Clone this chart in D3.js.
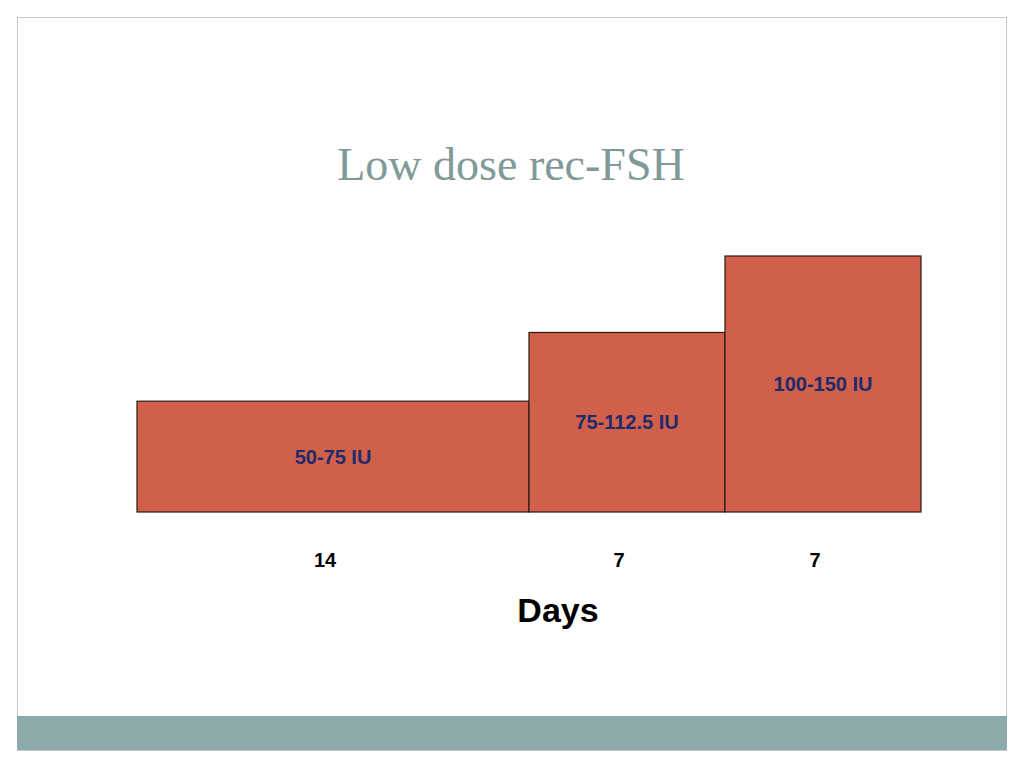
<!DOCTYPE html>
<html>
<head>
<meta charset="utf-8">
<script src="https://cdn.jsdelivr.net/npm/d3@7"></script>
<style>
  body { margin: 0; background: #fff; }
</style>
</head>
<body>
<svg id="chart" width="1024" height="768"></svg>
<script>
// dose steps, duration in days and relative dose level
let doses = ['50-75 IU', '75-112.5 IU', '100-150 IU'];
let days = [14, 7, 7];
let levels = [1, 1.62, 2.31];

let svg = d3.select('#chart');

// slide frame
svg.append('rect')
    .attr('x', 17.5).attr('y', 17.5)
    .attr('width', 989).attr('height', 733)
    .attr('fill', '#fff')
    .attr('stroke', '#c8c8c8');

svg.append('rect')
    .attr('x', 17).attr('y', 716)
    .attr('width', 990).attr('height', 34)
    .attr('fill', '#8eabab');

svg.append('text')
    .attr('x', 511).attr('y', 180)
    .attr('text-anchor', 'middle')
    .attr('font-family', 'Liberation Serif, serif')
    .attr('font-size', 46)
    .attr('fill', '#7f9a98')
    .text('Low dose rec-FSH');

let starts = [];
let acc = 0;
for (let d of days) {
    starts.push(acc);
    acc += d;
}

let x = d3.scaleLinear().domain([0, acc]).range([137, 921]);
let y = d3.scaleLinear().domain([0, 2.31]).range([512, 256]);

let bars = svg.append('g');

for (let i = 0; i < doses.length; i++) {
    let x0 = x(starts[i]);
    let x1 = x(starts[i] + days[i]);

    bars.append('rect')
        .attr('x', x0).attr('y', y(levels[i]))
        .attr('width', x1 - x0).attr('height', y(0) - y(levels[i]))
        .attr('fill', '#d0604a')
        .attr('stroke', '#2a1a14')
        .attr('stroke-width', 1.2);

    bars.append('text')
        .attr('x', (x0 + x1) / 2)
        .attr('y', y(levels[i] / 2) + 7)
        .attr('text-anchor', 'middle')
        .attr('font-family', 'Liberation Sans, Arial, sans-serif')
        .attr('font-weight', 'bold')
        .attr('font-size', 20)
        .attr('fill', '#1f2a6b')
        .text(doses[i]);

    bars.append('text')
        .attr('x', (x0 + x1) / 2 - 8)
        .attr('y', 567)
        .attr('text-anchor', 'middle')
        .attr('font-family', 'Liberation Sans, Arial, sans-serif')
        .attr('font-weight', 'bold')
        .attr('font-size', 20)
        .attr('fill', '#000')
        .text(days[i]);
}

svg.append('text')
    .attr('x', 558).attr('y', 622)
    .attr('text-anchor', 'middle')
    .attr('font-family', 'Liberation Sans, Arial, sans-serif')
    .attr('font-weight', 'bold')
    .attr('font-size', 34)
    .attr('fill', '#000')
    .text('Days');
</script>
</body>
</html>
